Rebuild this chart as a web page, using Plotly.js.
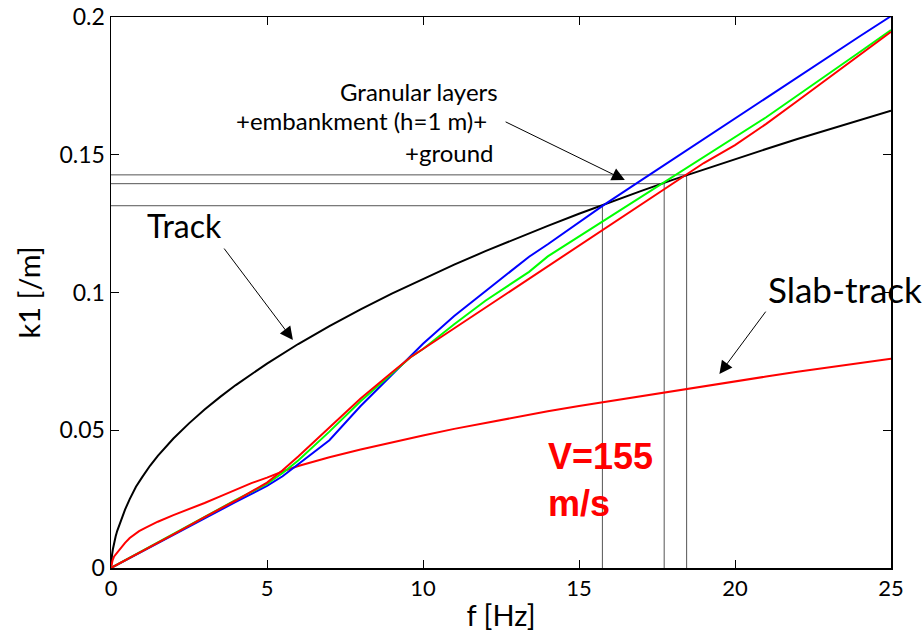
<!DOCTYPE html>
<html>
<head>
<meta charset="utf-8">
<script src="https://cdn.plot.ly/plotly-3.0.1.min.js"></script>
<style>html,body{margin:0;padding:0;background:#fff;}#chart{width:924px;height:636px;}</style>
</head>
<body>
<div id="chart"></div>
<script>
// ---- Data ----
const trackF = [0, 0.01, 0.03, 0.06, 0.1, 0.15, 0.2, 0.3, 0.45, 0.6, 0.8, 1, 1.25, 1.5, 2, 2.5, 3, 3.5, 4, 5, 6, 7, 8, 9, 10, 11, 12, 13, 14, 15, 16, 17, 18, 19, 20, 21, 22, 23, 24, 25];
const trackK = [0, 0.0025, 0.0045, 0.0068, 0.0092, 0.0115, 0.0135, 0.0168, 0.0212, 0.025, 0.0295, 0.033, 0.0371, 0.0407, 0.047, 0.0525, 0.0575, 0.0621, 0.0664, 0.0742, 0.0813, 0.0878, 0.0939, 0.0996, 0.105, 0.1101, 0.115, 0.1197, 0.1242, 0.1286, 0.1328, 0.1369, 0.1409, 0.1447, 0.1485, 0.1521, 0.1557, 0.1592, 0.1626, 0.166];

const slabF = [0, 0.02, 0.05, 0.1, 0.2, 0.3, 0.45, 0.6, 0.75, 0.9, 1.1, 1.5, 2, 2.5, 3, 3.5, 4, 4.5, 5, 5.6, 6, 7, 8, 9, 10, 11, 12, 13, 14, 15, 16, 17, 18, 19, 20, 21, 22, 23, 24, 25];
const slabK = [0, 0.0015, 0.0028, 0.0042, 0.0057, 0.0069, 0.0091, 0.0109, 0.0123, 0.0134, 0.0146, 0.0168, 0.0192, 0.0213, 0.0236, 0.026, 0.0284, 0.0308, 0.0328, 0.0355, 0.037, 0.0402, 0.043, 0.0456, 0.0481, 0.0505, 0.0527, 0.0548, 0.0569, 0.0588, 0.0606, 0.0625, 0.0643, 0.066, 0.0678, 0.0695, 0.0712, 0.0728, 0.0744, 0.076];

const groundF = [0, 1, 2, 3, 4, 5, 5.5, 6, 7, 8, 9, 9.6, 10, 11, 12, 13, 13.4, 14, 15, 15.8, 17, 18, 19, 20, 21, 22, 23, 24, 25];
const blueK  = [0, 0.0061, 0.0122, 0.018, 0.024, 0.0298, 0.0333, 0.0377, 0.0464, 0.0588, 0.0701, 0.0768, 0.0814, 0.0915, 0.1005, 0.1093, 0.113, 0.1175, 0.1255, 0.1318, 0.1408, 0.1483, 0.1557, 0.1632, 0.1706, 0.178, 0.1855, 0.193, 0.2003];
const greenK = [0, 0.0062, 0.0124, 0.0187, 0.0247, 0.0305, 0.0345, 0.039, 0.0495, 0.0605, 0.0705, 0.0765, 0.0795, 0.0885, 0.097, 0.1045, 0.1075, 0.1131, 0.1203, 0.126, 0.1347, 0.1419, 0.1492, 0.1563, 0.1636, 0.1715, 0.1793, 0.1873, 0.1953];
const redK   = [0, 0.006, 0.0122, 0.0185, 0.0245, 0.031, 0.0355, 0.0405, 0.051, 0.0615, 0.071, 0.0765, 0.0795, 0.087, 0.0945, 0.1022, 0.105, 0.1098, 0.1173, 0.123, 0.132, 0.1397, 0.147, 0.1535, 0.1612, 0.1695, 0.1778, 0.1862, 0.1946];

// crossing points (frequency, wavenumber) marked by thin reference lines
const crossF = [15.75, 17.73, 18.45];
const crossK = [0.1315, 0.1395, 0.1427];

const xTicks = [0, 5, 10, 15, 20, 25];
const yTicks = [0, 0.05, 0.1, 0.15, 0.2];
const yTickText = ['0', '0.05', '0.1', '0.15', '0.2'];

// ---- Traces ----
const traces = [];
crossF.forEach((f, i) => {
  traces.push({
    x: [0, f, f], y: [crossK[i], crossK[i], 0],
    mode: 'lines', line: {color: '#555555', width: 1}, hoverinfo: 'skip', showlegend: false
  });
});
traces.push({x: trackF, y: trackK, mode: 'lines', line: {color: '#000000', width: 2}, name: 'Track'});
traces.push({x: slabF, y: slabK, mode: 'lines', line: {color: '#ff0000', width: 2}, name: 'Slab-track'});
traces.push({x: groundF, y: blueK, mode: 'lines', line: {color: '#0000ff', width: 2}, name: 'ground 1'});
traces.push({x: groundF, y: greenK, mode: 'lines', line: {color: '#00ff00', width: 2}, name: 'ground 2'});
traces.push({x: groundF, y: redK, mode: 'lines', line: {color: '#ff0000', width: 2}, name: 'ground 3'});

const txtFont = {family: 'Lato, "Open Sans", sans-serif', color: '#000'};
const arrowStyle = {xref: 'x', yref: 'y', axref: 'x', ayref: 'y', text: '', showarrow: true,
                    arrowhead: 2, arrowsize: 2.6, arrowwidth: 1, arrowcolor: '#000'};

const layout = {
  width: 924, height: 636,
  margin: {l: 111, r: 33, t: 17, b: 68},
  paper_bgcolor: '#fff', plot_bgcolor: '#fff',
  showlegend: false,
  xaxis: {
    range: [0, 25], tickvals: xTicks, ticks: 'inside', ticklen: 8, tickwidth: 1, tickcolor: '#000',
    showline: true, linecolor: '#000', linewidth: 1.5, mirror: 'ticks', showgrid: false, zeroline: false,
    tickfont: Object.assign({size: 22}, txtFont),
    title: {text: 'f [Hz]', font: Object.assign({size: 29}, txtFont), standoff: 6}
  },
  yaxis: {
    range: [0, 0.2], tickvals: yTicks, ticktext: yTickText, ticks: 'inside', ticklen: 8, tickwidth: 1, tickcolor: '#000',
    showline: true, linecolor: '#000', linewidth: 1.5, mirror: 'ticks', showgrid: false, zeroline: false,
    tickfont: Object.assign({size: 23}, txtFont),
    title: {text: 'k1 [/m]', font: Object.assign({size: 29}, txtFont), standoff: 10}
  },
  annotations: [
    // arrows (tip at x,y ; tail at ax,ay in data units)
    Object.assign({x: 16.47, y: 0.1408, ax: 12.6, ay: 0.1622}, arrowStyle),
    Object.assign({x: 5.83, y: 0.0828, ax: 3.59, ay: 0.1165}, arrowStyle),
    Object.assign({x: 19.5, y: 0.0704, ax: 21.02, ay: 0.0936}, arrowStyle),
    // text labels
    {x: 12.47, y: 0.1731, xref: 'x', yref: 'y', xanchor: 'right', yanchor: 'middle', showarrow: false,
     text: 'Granular layers', font: Object.assign({size: 24}, txtFont)},
    {x: 12.1, y: 0.1623, xref: 'x', yref: 'y', xanchor: 'right', yanchor: 'middle', showarrow: false,
     text: '+embankment (h=1 m)+', font: Object.assign({size: 24}, txtFont)},
    {x: 12.3, y: 0.1510, xref: 'x', yref: 'y', xanchor: 'right', yanchor: 'middle', showarrow: false,
     text: '+ground', font: Object.assign({size: 24}, txtFont)},
    {x: 2.35, y: 0.1242, xref: 'x', yref: 'y', xanchor: 'center', yanchor: 'middle', showarrow: false,
     text: 'Track', font: Object.assign({size: 32}, txtFont)},
    {x: 21.0, y: 0.1013, xref: 'x', yref: 'y', xanchor: 'left', yanchor: 'middle', showarrow: false,
     text: 'Slab-track', font: Object.assign({size: 35}, txtFont)},
    {x: 13.95, y: 0.0318, xref: 'x', yref: 'y', xanchor: 'left', yanchor: 'middle', showarrow: false, align: 'left',
     text: '<b>V=155<br>m/s</b>', font: {family: '"Liberation Sans", Arial, sans-serif', size: 36, color: '#ff0000'}}
  ]
};

Plotly.newPlot('chart', traces, layout, {staticPlot: true, displayModeBar: false});
</script>
</body>
</html>
